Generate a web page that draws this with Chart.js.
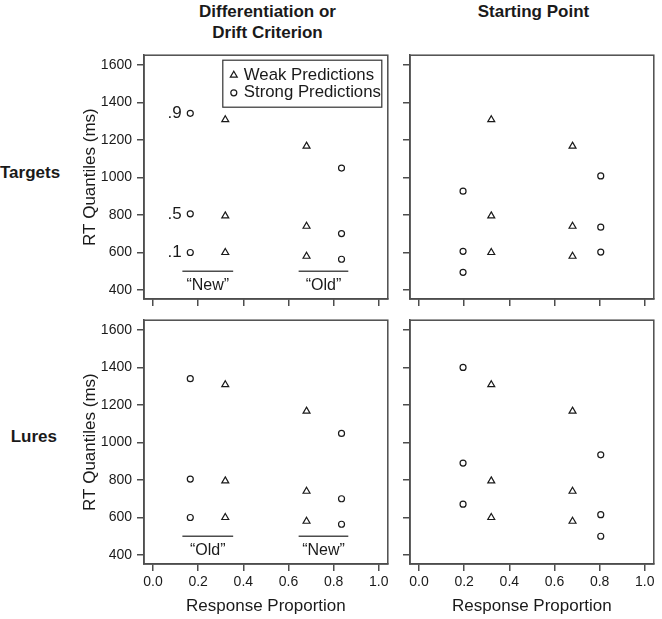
<!DOCTYPE html>
<html>
<head>
<meta charset="utf-8">
<script src="https://cdn.jsdelivr.net/npm/chart.js@4.4.1/dist/chart.umd.min.js"></script>
<style>
  body { margin: 0; background: #fff; }
  #wrap { position: relative; width: 662px; height: 619px; font-family: "Liberation Sans", Arial, sans-serif; color: #1a1a1a; }
  canvas { position: absolute; }
  .colTitle { position: absolute; font-weight: bold; font-size: 17px; line-height: 21px; text-align: center; }
  .rowTitle { position: absolute; font-weight: bold; font-size: 17px; line-height: 21px; text-align: right; }
</style>
</head>
<body>
<div id="wrap">
  <div class="colTitle" style="left:144px; width:247px; top:1px">Differentiation or<br>Drift Criterion</div>
  <div class="colTitle" style="left:410px; width:247px; top:1px">Starting Point</div>
  <div class="rowTitle" style="left:0; width:57px; top:162px">Targets</div>
  <div class="rowTitle" style="left:0; width:57px; top:426px">Lures</div>
  <canvas id="tl"></canvas>
  <canvas id="tr"></canvas>
  <canvas id="bl"></canvas>
  <canvas id="br"></canvas>
</div>
<script>
// quantile labels (.1, .5, .9) for each response group
const quantileLabels = ['.1', '.5', '.9'];

// weak predictions (same in every panel)
const weakX = [0.32, 0.68];
const weakLeftRT = [600, 795, 1308];
const weakRightRT = [580, 740, 1167];

// strong predictions, differentiation / drift criterion
const diffX = [0.165, 0.835];
const diffTargetsLeftRT = [600, 806, 1342];
const diffTargetsRightRT = [564, 701, 1050];
const diffLuresLeftRT = [600, 805, 1340];
const diffLuresRightRT = [564, 700, 1048];

// strong predictions, starting point
const startX = [0.195, 0.805];
const startTargetsLeftRT = [494, 606, 927];
const startTargetsRightRT = [602, 735, 1008];
const startLuresLeftRT = [671, 890, 1400];
const startLuresRightRT = [500, 615, 934];

// response labels under the groups
const targetResponses = ['\u201CNew\u201D', '\u201COld\u201D'];
const lureResponses = ['\u201COld\u201D', '\u201CNew\u201D'];

const ink = '#1a1a1a';
const frame = '#4d4d4d';
const fontFamily = '"Liberation Sans", Arial, sans-serif';

// turn two groups of quantiles into scatter points
function toPoints(xs, leftRT, rightRT) {
  return leftRT.map(v => ({ x: xs[0], y: v }))
    .concat(rightRT.map(v => ({ x: xs[1], y: v })));
}

function drawMarker(ctx, style, r, x, y) {
  ctx.beginPath();
  if (style === 'triangle') {
    for (let k = 0; k < 3; k++) {
      const a = k * 2 * Math.PI / 3;
      const px = x + Math.sin(a) * r, py = y - Math.cos(a) * r;
      if (k === 0) ctx.moveTo(px, py); else ctx.lineTo(px, py);
    }
    ctx.closePath();
  } else {
    ctx.arc(x, y, r, 0, Math.PI * 2);
  }
  ctx.stroke();
}

// full box round the plot area
const boxPlugin = {
  id: 'boxPlugin',
  afterDraw(chart) {
    const { ctx, chartArea } = chart;
    ctx.save();
    ctx.strokeStyle = frame;
    ctx.lineWidth = 1.5;
    ctx.strokeRect(chartArea.left, chartArea.top, chartArea.right - chartArea.left, chartArea.bottom - chartArea.top);
    ctx.restore();
  }
};

// legend box in the top right of the plot area
const boxLegend = {
  id: 'boxLegend',
  afterDraw(chart, args, opts) {
    if (!opts.show) return;
    const { ctx, chartArea } = chart;
    const w = 159, h = 47;
    const x0 = chartArea.right - 6 - w, y0 = chartArea.top + 5;
    ctx.save();
    ctx.strokeStyle = '#333';
    ctx.lineWidth = 1.2;
    ctx.strokeRect(x0, y0, w, h);
    ctx.font = '16.8px ' + fontFamily;
    ctx.textBaseline = 'middle';
    ctx.fillStyle = ink;
    chart.data.datasets.filter(d => d.label).forEach((d, i) => {
      const y = y0 + 15 + i * 17.6;
      ctx.strokeStyle = ink;
      ctx.lineWidth = 1.2;
      drawMarker(ctx, d.pointStyle, d.pointRadius, x0 + 11, y);
      ctx.fillText(d.label, x0 + 21, y);
    });
    ctx.restore();
  }
};

// group names under the brackets, and quantile names next to the first group
const textPlugin = {
  id: 'textPlugin',
  afterDraw(chart, args, opts) {
    const { ctx, scales } = chart;
    ctx.save();
    ctx.fillStyle = ink;
    ctx.textBaseline = 'middle';
    if (opts.groups) {
      ctx.font = '16px ' + fontFamily;
      ctx.textAlign = 'center';
      opts.groups.forEach((g, i) => {
        const span = opts.spans[i];
        ctx.fillText(g, scales.x.getPixelForValue((span[0] + span[1]) / 2), scales.y.getPixelForValue(426));
      });
    }
    if (opts.quantiles) {
      ctx.font = '17px ' + fontFamily;
      ctx.textAlign = 'right';
      opts.quantiles.forEach((q, i) => {
        ctx.fillText(q, scales.x.getPixelForValue(0.127), scales.y.getPixelForValue(opts.quantileRT[i]));
      });
    }
    ctx.restore();
  }
};

// fixes axis sizes so all four plot areas line up
function fixSize(size) {
  return (scale) => {
    if (scale.isHorizontal()) scale.height = size; else scale.width = size;
    scale.paddingLeft = scale.paddingRight = scale.paddingTop = scale.paddingBottom = 0;
  };
}

const plotSize = 247;

function makePanel(id, p) {
  const yW = p.showY ? 64 : 10;
  const xH = p.showX ? 55 : 10;
  const canvas = document.getElementById(id);
  canvas.width = yW + plotSize + 2;
  canvas.height = 2 + plotSize + xH;
  canvas.style.left = (p.left - yW) + 'px';
  canvas.style.top = (p.top - 2) + 'px';

  const spans = [[0.13, 0.355], [0.645, 0.865]];
  const datasets = [
    {
      label: 'Weak Predictions',
      data: toPoints(weakX, weakLeftRT, weakRightRT),
      pointStyle: 'triangle',
      pointRadius: 4,
      borderColor: ink,
      backgroundColor: 'rgba(0,0,0,0)',
      borderWidth: 1.2
    },
    {
      label: 'Strong Predictions',
      data: toPoints(p.strongX, p.strongLeft, p.strongRight),
      pointStyle: 'circle',
      pointRadius: 3,
      borderColor: ink,
      backgroundColor: 'rgba(0,0,0,0)',
      borderWidth: 1.2
    }
  ];
  // bracket lines under each response group
  if (p.groups) {
    spans.forEach(s => {
      datasets.push({
        data: [{ x: s[0], y: 500 }, { x: s[1], y: 500 }],
        showLine: true,
        pointRadius: 0,
        borderColor: frame,
        borderWidth: 1.5,
        fill: false
      });
    });
  }

  new Chart(canvas.getContext('2d'), {
    type: 'scatter',
    data: { datasets: datasets },
    options: {
      responsive: false,
      animation: false,
      events: [],
      layout: { padding: { top: 2, right: 2, left: 0, bottom: 0 } },
      plugins: {
        legend: { display: false },
        tooltip: { enabled: false },
        boxLegend: { show: !!p.legend },
        textPlugin: {
          groups: p.groups,
          spans: spans,
          quantiles: p.quantiles ? quantileLabels : null,
          quantileRT: p.strongLeft
        }
      },
      scales: {
        x: {
          type: 'linear',
          min: -0.04,
          max: 1.04,
          afterFit: fixSize(xH),
          ticks: {
            display: p.showX,
            stepSize: 0.2,
            includeBounds: false,
            maxRotation: 0,
            padding: 3,
            color: ink,
            font: { family: fontFamily, size: 14 },
            callback: v => v.toFixed(1)
          },
          grid: { drawOnChartArea: false, drawTicks: true, tickLength: 7, color: frame, lineWidth: 1.5 },
          border: { color: frame, width: 1.5 },
          title: {
            display: p.showX,
            text: 'Response Proportion',
            color: ink,
            font: { family: fontFamily, size: 17 },
            padding: { top: 0, bottom: 2 }
          }
        },
        y: {
          type: 'linear',
          min: 352,
          max: 1652,
          afterFit: fixSize(yW),
          ticks: {
            display: p.showY,
            stepSize: 200,
            includeBounds: false,
            padding: 5,
            color: ink,
            font: { family: fontFamily, size: 14 },
            callback: v => String(v)
          },
          grid: { drawOnChartArea: false, drawTicks: true, tickLength: 7, color: frame, lineWidth: 1.5 },
          border: { color: frame, width: 1.5 },
          title: {
            display: p.showY,
            text: 'RT Quantiles (ms)',
            color: ink,
            font: { family: fontFamily, size: 17 },
            padding: { top: 0, bottom: 0 }
          }
        }
      }
    },
    plugins: [boxPlugin, boxLegend, textPlugin]
  });
}

window.addEventListener('load', function() {
  makePanel('tl', {
    left: 144, top: 52, showY: true, showX: false, legend: true, quantiles: true,
    strongX: diffX, strongLeft: diffTargetsLeftRT, strongRight: diffTargetsRightRT,
    groups: targetResponses
  });
  makePanel('tr', {
    left: 410, top: 52, showY: false, showX: false,
    strongX: startX, strongLeft: startTargetsLeftRT, strongRight: startTargetsRightRT
  });
  makePanel('bl', {
    left: 144, top: 317, showY: true, showX: true,
    strongX: diffX, strongLeft: diffLuresLeftRT, strongRight: diffLuresRightRT,
    groups: lureResponses
  });
  makePanel('br', {
    left: 410, top: 317, showY: false, showX: true,
    strongX: startX, strongLeft: startLuresLeftRT, strongRight: startLuresRightRT
  });
});
</script>
</body>
</html>
